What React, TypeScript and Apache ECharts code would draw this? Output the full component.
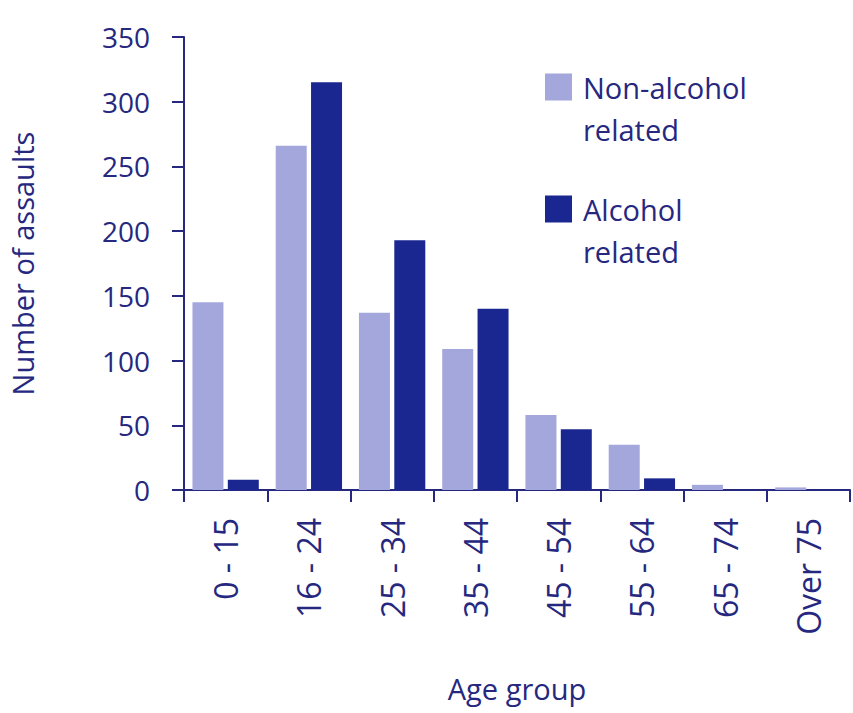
import React, { useEffect, useRef } from "react";
import * as echarts from "echarts";

const categories = ["0 - 15", "16 - 24", "25 - 34", "35 - 44", "45 - 54", "55 - 64", "65 - 74", "Over 75"];
const nonAlcohol = [145, 266, 137, 109, 58, 35, 4, 2];
const alcohol = [8, 315, 193, 140, 47, 9, 0, 0];
const yTicks = { min: 0, max: 350, interval: 50 };

const INK = "#26287f";
const LIGHT = "#a3a7dc";
const DARK = "#1b2790";
const FONT = "Open Sans";

export default function App() {
  const ref = useRef<HTMLDivElement>(null);
  useEffect(() => {
    if (!ref.current) return;
    const chart = echarts.init(ref.current, undefined, { renderer: "svg" });
    chart.setOption({
      animation: false,
      backgroundColor: "#ffffff",
      textStyle: { fontFamily: FONT, color: INK },
      grid: { left: 184, top: 37, right: 3, bottom: 223 },
      legend: {
        orient: "vertical",
        left: 540,
        top: 19,
        itemWidth: 27,
        itemHeight: 27,
        itemGap: -4,
        icon: "rect",
        selectedMode: false,
        formatter: (name: string) => "\n" + name,
        textStyle: {
          fontFamily: FONT,
          fontSize: 29,
          color: INK,
          lineHeight: 42,
          padding: [0, 0, 0, 6],
        },
        data: [
          { name: "Non-alcohol\nrelated" },
          { name: "Alcohol\nrelated" },
        ],
      },
      xAxis: {
        type: "category",
        data: categories,
        name: "Age group",
        nameLocation: "middle",
        nameGap: 184,
        nameTextStyle: { fontFamily: FONT, fontSize: 29, color: INK },
        axisLine: { lineStyle: { color: INK, width: 2 } },
        axisTick: { show: true, length: 12, lineStyle: { color: INK, width: 2 } },
        axisLabel: {
          rotate: 90,
          margin: 28,
          fontFamily: FONT,
          fontSize: 32,
          color: INK,
        },
      },
      yAxis: {
        type: "value",
        min: yTicks.min,
        max: yTicks.max,
        interval: yTicks.interval,
        name: "Number of assaults",
        nameLocation: "middle",
        nameGap: 147,
        nameTextStyle: { fontFamily: FONT, fontSize: 29, color: INK },
        splitLine: { show: false },
        axisLine: { show: true, lineStyle: { color: INK, width: 2 } },
        axisTick: { show: true, length: 12, lineStyle: { color: INK, width: 2 } },
        axisLabel: { margin: 34, fontFamily: FONT, fontSize: 28, color: INK },
      },
      series: [
        {
          name: "Non-alcohol\nrelated",
          type: "bar",
          data: nonAlcohol,
          barWidth: 31,
          barGap: "14%",
          itemStyle: { color: LIGHT },
        },
        {
          name: "Alcohol\nrelated",
          type: "bar",
          data: alcohol,
          barWidth: 31,
          itemStyle: { color: DARK },
        },
      ],
    });
    return () => chart.dispose();
  }, []);
  return <div ref={ref} style={{ width: 853, height: 713, position: "absolute", left: 0, top: 0 }} />;
}
